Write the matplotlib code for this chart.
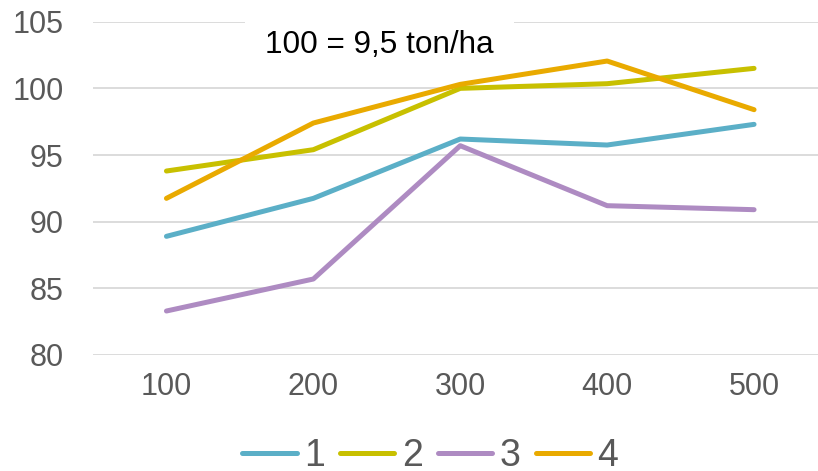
import matplotlib.pyplot as plt

plt.rcParams['font.family'] = ['Liberation Sans', 'DejaVu Sans']

categories = ['100', '200', '300', '400', '500']
series_labels = ['1', '2', '3', '4']
s1 = [88.9, 91.75, 96.2, 95.75, 97.3]
s2 = [93.8, 95.4, 100.0, 100.35, 101.5]
s3 = [83.3, 85.7, 95.7, 91.2, 90.9]
s4 = [91.75, 97.4, 100.3, 102.05, 98.4]
colors = ['#5BAFC7', '#C8C000', '#AE8BC2', '#E9AA00']
y_ticks = [80, 85, 90, 95, 100, 105]

fig = plt.figure(figsize=(8.18, 4.71), dpi=100)
ax = fig.add_axes([93 / 818, 1 - 355 / 471, (827.5 - 93) / 818, (355 - 21.7) / 471])

x = range(len(categories))
for vals, lab, col in zip([s1, s2, s3, s4], series_labels, colors):
    ax.plot(x, vals, color=col, linewidth=3.6, solid_capstyle='round',
            solid_joinstyle='round', label=lab, zorder=3)

ax.set_xlim(-0.5, len(categories) - 0.5)
ax.set_ylim(80, 105)
ax.set_yticks(y_ticks)
ax.set_xticks(list(x))
ax.set_xticklabels(categories)
ax.grid(axis='y', color='#D9D9D9', linewidth=1.3, zorder=0)
ax.set_axisbelow(True)
for s in ax.spines.values():
    s.set_visible(False)
ax.tick_params(axis='both', length=0, labelsize=22, colors='#595959')
ax.tick_params(axis='y', pad=21)
ax.tick_params(axis='x', pad=12)

ax.text(1.45, 103.25, '100 = 9,5 ton/ha', fontsize=22.7, color='black',
        ha='center', va='center', zorder=1,
        bbox=dict(boxstyle='square,pad=0.65', facecolor='white', edgecolor='none'))

leg = fig.legend(loc='center', bbox_to_anchor=(0.526, 1 - 456 / 471), ncol=4,
                 frameon=False, fontsize=27, handlelength=1.45,
                 handletextpad=0.2, columnspacing=0.4)
for t in leg.get_texts():
    t.set_color('#595959')

fig.savefig('out.png', dpi=100)
